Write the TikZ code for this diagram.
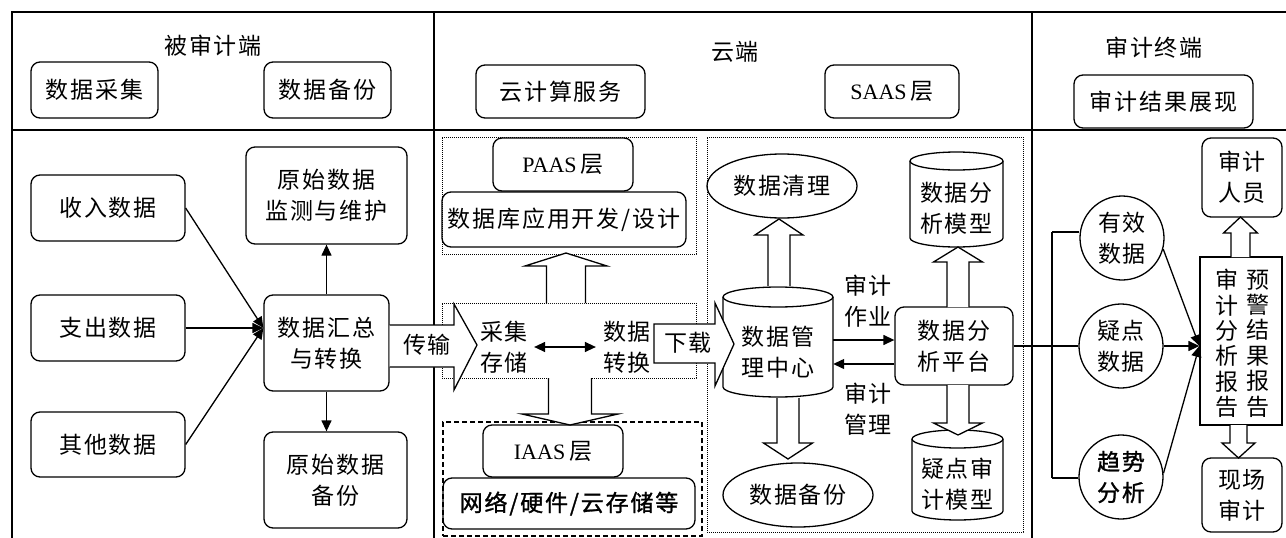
\documentclass[tikz,border=0pt]{standalone}
\usepackage{fontspec}
\newfontfamily\cjk[LetterSpace=8]{Noto Sans CJK SC}
\newfontfamily\cjkb[LetterSpace=8,FakeBold=1.2]{Noto Sans CJK SC}
\newfontfamily\lat{Liberation Serif}
\usetikzlibrary{shapes.geometric,arrows.meta,calc}
\tikzset{
  fr/.style={line width=1.4pt},
  ln/.style={line width=1.3pt},
  cjkfont/.style={font=\cjk\fontsize{23}{31}\selectfont},
  bx/.style={draw, ln, rounded corners=9pt, align=center, inner sep=0pt, cjkfont},
  sq/.style={draw, ln, align=center, inner sep=0pt, cjkfont},
  ell/.style={draw, ln, ellipse, align=center, inner sep=0pt, cjkfont},
  circ/.style={draw, ln, circle, minimum size=84pt, align=center, inner sep=0pt, cjkfont},
  txt/.style={align=center, inner sep=0pt, cjkfont},
  dotbox/.style={draw, line width=0.9pt, dash pattern=on 0.9pt off 1.1pt, inner sep=0pt},
  dashbox/.style={draw, line width=1.3pt, dash pattern=on 5pt off 3pt, inner sep=0pt},
  arr/.style={ln, -{Triangle[length=11pt,width=10pt]}},
  darr/.style={ln, {Triangle[length=11pt,width=10pt]}-{Triangle[length=11pt,width=10pt]}},
  blk/.style={ln, fill=white, line join=miter},
}
% cylinder: name, xl, xr, ytop, ybottom, ry, text
\newcommand\mycyl[7]{%
  \node[inner sep=0pt, minimum width={#3-#2}, minimum height={#5-#4}] (#1) at ({(#2+#3)/2},{-(#4+#5)/2}) {};
  \draw[ln] (#2,{-(#4)-(#6)}) -- (#2,{-(#5)+(#6)}) arc[start angle=180,end angle=360,x radius={(#3-#2)/2},y radius=#6] -- (#3,{-(#4)-(#6)});
  \draw[ln] ({(#2+#3)/2},{-(#4)-(#6)}) ellipse[x radius={(#3-#2)/2}, y radius=#6];
  \node[txt] (#1-t) at ($(#1.center)+(0,-#6)$) {#7};
}
% vertical block arrow: cx, shaft half, head half, ystart, yheadbase, yapex
\newcommand\vblk[6]{%
  \draw[blk] ({#1-#2},-#4) -- ({#1-#2},-#5) -- ({#1-#3},-#5) -- (#1,-#6) -- ({#1+#3},-#5) -- ({#1+#2},-#5) -- ({#1+#2},-#4);
}
\begin{document}
\begin{tikzpicture}[x=1pt,y=1pt]
\useasboundingbox (0,0) rectangle (1286,-538);
% frame
\draw[fr] (12,-538) -- (12,-12) -- (1286,-12);
\draw[fr] (12,-130) -- (1286,-130);
\draw[fr] (434,-12) -- (434,-538);
\draw[fr] (1032,-12) -- (1032,-538);
% titles
\node[txt] (t1) at (213,-46) {被审计端};
\node[txt] (t2) at (735,-52) {云端};
\node[txt] (t3) at (1154,-48) {审计终端};
% header boxes
\node[bx, minimum width=127pt, minimum height=56pt] (h1) at (94.5,-90) {数据采集};
\node[bx, minimum width=127pt, minimum height=56pt] (h2) at (327.5,-90) {数据备份};
\node[bx, minimum width=169pt, minimum height=53pt] (h3) at (560.5,-91.5) {云计算服务};
\node[bx, minimum width=134pt, minimum height=53pt] (h4) at (892,-91.5) {{\lat\fontsize{22}{31}\selectfont SAAS}\,层};
\node[bx, minimum width=179pt, minimum height=53pt] (h5) at (1163.5,-101.5) {审计结果展现};
% left column
\node[bx, minimum width=154pt, minimum height=66pt] (srcA) at (108,-208) {收入数据};
\node[bx, minimum width=154pt, minimum height=66pt] (srcB) at (108,-328) {支出数据};
\node[bx, minimum width=154pt, minimum height=65pt] (srcC) at (108,-444.5) {其他数据};
\node[bx, minimum width=161pt, minimum height=97pt] (mon) at (326.5,-195.5) {原始数据\\监测与维护};
\node[bx, minimum width=125pt, minimum height=96pt] (agg) at (326.5,-343) {数据汇总\\与转换};
\node[bx, minimum width=143pt, minimum height=96pt] (bak) at (335.5,-480) {原始数据\\备份};
\coordinate (conv) at (agg.west |- srcB.east);
\draw[arr] (srcA.east) -- (conv);
\draw[arr] (srcB.east) -- (conv);
\draw[arr] (srcC.east) -- (conv);
\draw[arr] (agg.north) -- (agg.north |- mon.south);
\draw[arr] (agg.south) -- (agg.south |- bak.north);
% middle column
\node[dotbox, minimum width=254pt, minimum height=117pt] (P) at (569,-195.5) {};
\node[dotbox, minimum width=254pt, minimum height=75pt] (M) at (569,-340.5) {};
\node[dashbox, minimum width=259pt, minimum height=114pt] (I) at (572.5,-479) {};
\node[bx, minimum width=140pt, minimum height=53pt] (paas) at (563,-164.5) {{\lat\fontsize{22}{31}\selectfont PAAS}\,层};
\node[bx, minimum width=244pt, minimum height=55pt] (db) at (564,-219.5) {数据库应用开发/设计};
\node[bx, minimum width=140pt, minimum height=52pt] (iaas) at (553,-451) {{\lat\fontsize{22}{31}\selectfont IAAS}\,层};
\node[bx, minimum width=252pt, minimum height=51pt, font=\cjkb\fontsize{23}{31}\selectfont] (net) at (569,-503.5) {网络/硬件/云存储等};
\node[txt] (cs) at (504,-347) {采集\\存储};
\node[txt] (dt) at (627,-347) {数据\\转换};
\draw[darr, shorten <=6pt, shorten >=7pt] (cs) -- (dt);
\vblk{566}{19.5}{41}{303}{266}{253}
\vblk{570}{21.5}{48}{378}{414}{425}
% right dotted area
\node[dotbox, minimum width=316pt, minimum height=395pt] (S) at (865,-334.5) {};
\node[ell, minimum width=150pt, minimum height=64pt] (clean) at (782,-186) {数据清理};
\node[ell, minimum width=150pt, minimum height=64pt] (bkp) at (798,-495) {数据备份};
\mycyl{mgmt}{723}{833}{287}{397}{10}{数据管\\理中心}
\mycyl{model1}{910}{1003}{152}{247}{9}{数据分\\析模型}
\mycyl{model2}{912}{1003}{430}{520}{9}{疑点审\\计模型}
\node[bx, minimum width=118pt, minimum height=78pt] (plat) at (954,-346) {数据分\\析平台};
\vblk{779}{11}{24}{286}{235}{219}
\vblk{788}{11}{24.5}{398}{443}{459}
\vblk{958}{11}{24.5}{307}{262}{247}
\vblk{958}{11}{24.5}{385}{423}{435}
\draw[arr] ([yshift=2pt]mgmt.east) -- ([yshift=2pt]mgmt.east -| plat.west);
\draw[arr] ([yshift=-22pt]mgmt.east -| plat.west) -- ([yshift=-22pt]mgmt.east);
\node[txt] (job) at (868,-301) {审计\\作业};
\node[txt] (mng) at (868,-409) {审计\\管理};
% transfer arrows
\draw[blk] (agg.east |- 0,-325) -- (454,-325) -- (454,-304) -- (477,-345) -- (454,-390) -- (454,-367) -- (agg.east |- 0,-367);
\node[txt] (tr) at (427,-345) {传输};
\draw[blk] (654,-324) -- (715,-324) -- (715,-303) -- (734,-344) -- (715,-386) -- (715,-363) -- (654,-363) -- cycle;
\node[txt] (dl) at (688,-343) {下载};
% right column
\node[circ] (c1) at (1122,-238) {有效\\数据};
\node[circ] (c2) at (1121,-346) {疑点\\数据};
\node[circ, font=\cjkb\fontsize{23}{31}\selectfont] (c3) at (1121,-477) {趋势\\分析};
\node[sq, minimum width=82pt, minimum height=168pt] (rep) at (1241,-341) {};
\node[txt, font=\cjk\fontsize{23}{25.4}\selectfont] (repl) at (1227,-343.5) {审\\计\\分\\析\\报\\告};
\node[txt, font=\cjk\fontsize{23}{25.4}\selectfont] (repr) at (1258,-343.5) {预\\警\\结\\果\\报\\告};
\node[bx, minimum width=80pt, minimum height=79pt] (staff) at (1242,-177.5) {审计\\人员};
\node[bx, minimum width=80pt, minimum height=74pt] (site) at (1242,-495) {现场\\审计};
\vblk{1240.5}{9.5}{17}{257}{233}{217}
\vblk{1238.5}{8.5}{16.5}{425}{443}{458}
\coordinate (b0) at (1052,-346);
\coordinate (b1) at (1052,-232);
\coordinate (b3) at (1052,-478);
\draw[ln] (plat.east) -- (b0);
\draw[ln] (b1) -- (b3);
\draw[ln] (b1) -- (b1 -| c1.west);
\draw[ln] (b0) -- (c2.west);
\draw[ln] (b3) -- (b3 -| c3.west);
\coordinate (tgt) at (rep.west |- c2.east);
\draw[arr] (c1.-15) -- (tgt);
\draw[arr] (c2.east) -- (tgt);
\draw[arr] (c3.5) -- (tgt);
\end{tikzpicture}
\end{document}
